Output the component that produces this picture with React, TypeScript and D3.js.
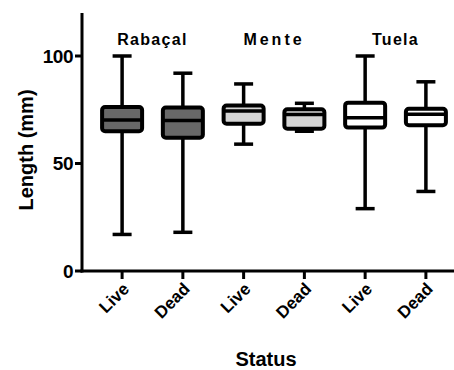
import { useRef, useEffect } from "react";
import * as d3 from "d3";

const sites = ["Rabaçal", "Mente", "Tuela"];
const statuses = ["Live", "Dead", "Live", "Dead", "Live", "Dead"];
const siteColors = ["#686868", "#d4d4d4", "#ffffff"];
// per box: [min, q1, median, q3, max]
const mins = [17, 18, 59, 65, 29, 37];
const q1s = [65, 62, 68.5, 66.2, 66.7, 67.8];
const medians = [70.2, 70, 74.4, 72.8, 71.3, 72.9];
const q3s = [76.3, 76, 77, 75.2, 78.3, 75.5];
const maxs = [100, 92, 87, 78, 100, 88];
const yTicks = [0, 50, 100];

export default function App() {
  const ref = useRef<SVGSVGElement>(null);

  useEffect(() => {
    if (!ref.current) return;
    const svg = d3.select(ref.current);
    svg.selectAll("*").remove();

    const W = 454,
      H = 370;
    const left = 82,
      top = 13,
      bottom = 271;
    const font = "'Liberation Sans', Arial, sans-serif";

    svg.attr("width", W).attr("height", H).attr("viewBox", `0 0 ${W} ${H}`);

    const idx = statuses.map((_, i) => i);
    const x = d3
      .scalePoint<number>()
      .domain(idx)
      .range([left, 466])
      .padding(0.66);
    const y = d3.scaleLinear().domain([0, 120]).range([bottom, top]);

    const g = svg.append("g").attr("font-family", font);

    // axes
    g.append("line")
      .attr("x1", left)
      .attr("x2", left)
      .attr("y1", top)
      .attr("y2", bottom + 1.5)
      .attr("stroke", "#000")
      .attr("stroke-width", 3);
    g.append("line")
      .attr("x1", left - 1.5)
      .attr("x2", W)
      .attr("y1", bottom)
      .attr("y2", bottom)
      .attr("stroke", "#000")
      .attr("stroke-width", 3);

    yTicks.forEach((t) => {
      g.append("line")
        .attr("x1", left - 7)
        .attr("x2", left)
        .attr("y1", y(t))
        .attr("y2", y(t))
        .attr("stroke", "#000")
        .attr("stroke-width", 3);
      g.append("text")
        .attr("x", left - 9)
        .attr("y", y(t))
        .attr("dy", "0.36em")
        .attr("text-anchor", "end")
        .attr("font-size", 19)
        .attr("font-weight", 700)
        .attr("letter-spacing", -0.5)
        .text(t);
    });

    idx.forEach((i) => {
      const cx = x(i)!;
      g.append("line")
        .attr("x1", cx)
        .attr("x2", cx)
        .attr("y1", bottom)
        .attr("y2", bottom + 8)
        .attr("stroke", "#000")
        .attr("stroke-width", 3);
      g.append("text")
        .attr("transform", `translate(${cx + 8},${bottom + 19}) rotate(-45)`)
        .attr("text-anchor", "end")
        .attr("font-size", 17)
        .attr("font-weight", 700)
        .text(statuses[i]);
    });

    // boxes
    const bw = 40,
      cw = 19;
    idx.forEach((i) => {
      const cx = x(i)!;
      const fill = siteColors[Math.floor(i / 2)];
      const bg = g.append("g").attr("stroke", "#000").attr("stroke-width", 3.5);
      bg.append("line")
        .attr("x1", cx)
        .attr("x2", cx)
        .attr("y1", y(maxs[i]))
        .attr("y2", y(q3s[i]));
      bg.append("line")
        .attr("x1", cx)
        .attr("x2", cx)
        .attr("y1", y(q1s[i]))
        .attr("y2", y(mins[i]));
      [mins[i], maxs[i]].forEach((v) => {
        bg.append("line")
          .attr("x1", cx - cw / 2)
          .attr("x2", cx + cw / 2)
          .attr("y1", y(v))
          .attr("y2", y(v));
      });
      bg.append("rect")
        .attr("x", cx - bw / 2)
        .attr("y", y(q3s[i]))
        .attr("width", bw)
        .attr("height", y(q1s[i]) - y(q3s[i]))
        .attr("rx", 3)
        .attr("fill", fill)
        .attr("stroke-width", 4);
      bg.append("line")
        .attr("x1", cx - bw / 2)
        .attr("x2", cx + bw / 2)
        .attr("y1", y(medians[i]))
        .attr("y2", y(medians[i]));
    });

    // site labels
    const spacing = [1.3, 3, 1.3];
    sites.forEach((s, k) => {
      const cx = (x(k * 2)! + x(k * 2 + 1)!) / 2;
      g.append("text")
        .attr("x", cx)
        .attr("y", 45)
        .attr("text-anchor", "middle")
        .attr("font-size", 16)
        .attr("font-weight", 700)
        .attr("letter-spacing", spacing[k])
        .text(s);
    });

    // axis titles
    g.append("text")
      .attr("transform", `translate(33,${(top + bottom) / 2 + 8}) rotate(-90)`)
      .attr("text-anchor", "middle")
      .attr("font-size", 20)
      .attr("font-weight", 700)
      .text("Length (mm)");
    g.append("text")
      .attr("x", (left + 466) / 2 - 8)
      .attr("y", 366)
      .attr("text-anchor", "middle")
      .attr("font-size", 20)
      .attr("font-weight", 700)
      .text("Status");
  }, []);

  return (
    <svg
      ref={ref}
      style={{ display: "block", position: "absolute", left: 0, top: 0 }}
    />
  );
}
